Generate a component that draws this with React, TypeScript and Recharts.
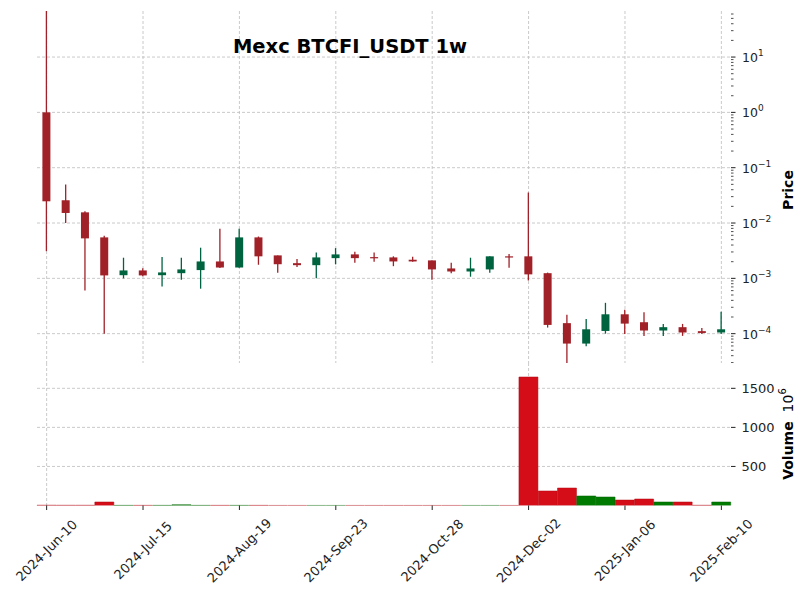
import React from "react";
import { ComposedChart, Bar, XAxis, YAxis, Cell, CartesianGrid } from "recharts";

// weekly candles, prices in USDT
const DATES = [
  "2024-Jun-10", "2024-Jun-17", "2024-Jun-24", "2024-Jul-01", "2024-Jul-08", "2024-Jul-15",
  "2024-Jul-22", "2024-Jul-29", "2024-Aug-05", "2024-Aug-12", "2024-Aug-19", "2024-Aug-26",
  "2024-Sep-02", "2024-Sep-09", "2024-Sep-16", "2024-Sep-23", "2024-Sep-30", "2024-Oct-07",
  "2024-Oct-14", "2024-Oct-21", "2024-Oct-28", "2024-Nov-04", "2024-Nov-11", "2024-Nov-18",
  "2024-Nov-25", "2024-Dec-02", "2024-Dec-09", "2024-Dec-16", "2024-Dec-23", "2024-Dec-30",
  "2025-Jan-06", "2025-Jan-13", "2025-Jan-20", "2025-Jan-27", "2025-Feb-03", "2025-Feb-10",
];
const OPEN = [
  1.0, 0.0258, 0.0156, 0.0055, 0.00114, 0.00139,
  0.00114, 0.00124, 0.00141, 0.00202, 0.00157, 0.0055,
  0.0026, 0.00188, 0.00173, 0.00232, 0.00271, 0.00242,
  0.00239, 0.00217, 0.00211, 0.00151, 0.00133, 0.00145,
  0.0025, 0.0025, 0.00124, 0.000155, 0.0000662, 0.000112,
  0.000224, 0.000161, 0.000114, 0.000131, 0.000111, 0.000105,
];
const HIGH = [
  68, 0.0497, 0.0164, 0.0059, 0.00236, 0.00153,
  0.00244, 0.00236, 0.00358, 0.0079, 0.0079, 0.0057,
  0.0026, 0.00223, 0.00294, 0.00352, 0.00303, 0.00292,
  0.0025, 0.00245, 0.00211, 0.00192, 0.00236, 0.0025,
  0.00275, 0.0356, 0.00127, 0.000219, 0.000185, 0.000361,
  0.00027, 0.000244, 0.00015, 0.00015, 0.000127, 0.000248,
];
const LOW = [
  0.0031, 0.01, 0.0006, 0.0001, 0.001, 0.00109,
  0.00071, 0.00094, 0.00065, 0.00154, 0.00155, 0.00176,
  0.00126, 0.0016, 0.001, 0.00179, 0.00192, 0.002,
  0.00166, 0.002, 0.00094, 0.00124, 0.00107, 0.00126,
  0.00156, 0.00091, 0.000129, 0.0000296, 0.0000591, 0.0001,
  0.0000985, 0.0000912, 0.0000912, 0.0000912, 0.0000985, 0.0000985,
];
const CLOSE = [
  0.0247, 0.0152, 0.00528, 0.00113, 0.00139, 0.00113,
  0.00128, 0.00145, 0.00202, 0.00157, 0.0055, 0.0025,
  0.0018, 0.00173, 0.00239, 0.00271, 0.00232, 0.00232,
  0.00202, 0.00202, 0.00145, 0.00133, 0.00151, 0.0025,
  0.00239, 0.00118, 0.000144, 0.0000662, 0.00012, 0.000224,
  0.000152, 0.000114, 0.000131, 0.000105, 0.000103, 0.00012,
];
// volume, in units of 10^6
const VOLUME = [
  4, 3, 3, 45, 2, 2,
  2, 10, 2, 2, 2, 2,
  1, 1, 1, 1, 1, 1,
  1, 1, 1, 1, 1, 1,
  1, 1645, 186, 224, 122, 109,
  70, 83, 45, 45, 3, 45,
];

const PRICE_DOMAIN = [2.95e-5, 68];
const PRICE_MAJOR = [1e-4, 1e-3, 1e-2, 1e-1, 1, 10];
const MINOR_STEPS = [2, 3, 4, 5, 6, 7, 8, 9];
const MINOR_DECADES = [1e-5, 1e-4, 1e-3, 1e-2, 1e-1, 1, 10];
const VOLUME_DOMAIN = [0, 1824];
const VOLUME_TICKS = [500, 1000, 1500];
const LABEL_EVERY = 5;

const UP = "#006340";
const DOWN = "#A02128";
const VOL_UP = "#007a00";
const VOL_DOWN = "#d50d18";
const GRID = "#bdbdbd";
const FONT = "DejaVu Sans";

const rows = DATES.map((date, i) => ({
  date,
  open: OPEN[i],
  high: HIGH[i],
  low: LOW[i],
  close: CLOSE[i],
  volume: VOLUME[i],
  up: CLOSE[i] >= OPEN[i],
}));

const minorTicks = MINOR_DECADES.flatMap((d) => MINOR_STEPS.map((m) => m * d)).filter(
  (v) => v >= PRICE_DOMAIN[0] && v <= PRICE_DOMAIN[1]
);
const priceTicks = [...PRICE_MAJOR, ...minorTicks].sort((a, b) => a - b);
const gridDates = DATES.filter((_, i) => i % LABEL_EVERY === 0);

// eslint-disable-next-line @typescript-eslint/no-explicit-any
function Candle(props: any) {
  const { x, y, width, height, payload } = props;
  if (!payload || height == null || !isFinite(y)) return null;
  const { open, close, high, low, up } = payload;
  const span = Math.log(high) - Math.log(low);
  const py = (v: number) => y + (height * (Math.log(high) - Math.log(v))) / span;
  const color = up ? UP : DOWN;
  const cx = x + width / 2;
  const top = py(Math.max(open, close));
  const bot = py(Math.min(open, close));
  return (
    <g>
      <line x1={cx} x2={cx} y1={y} y2={y + height} stroke={color} strokeWidth={1.3} />
      <rect x={x} y={top} width={width} height={Math.max(bot - top, 1.2)} fill={color} />
    </g>
  );
}

// eslint-disable-next-line @typescript-eslint/no-explicit-any
function PriceTick({ x, y, payload }: any) {
  const v = payload.value;
  const exp = Math.round(Math.log10(v));
  const major = Math.abs(Math.log10(v) - exp) < 1e-6;
  if (!major) {
    return <line x1={x} x2={x + 2.5} y1={y} y2={y} stroke="#222" strokeWidth={0.8} />;
  }
  return (
    <g>
      <line x1={x} x2={x + 4.5} y1={y} y2={y} stroke="#222" strokeWidth={1} />
      <text x={x + 11} y={y + 5} fontSize={12.5} fill="#222" fontFamily={FONT}>
        10
        <tspan dy={-6} fontSize={9}>
          {exp < 0 ? `\u2212${-exp}` : exp}
        </tspan>
      </text>
    </g>
  );
}

// eslint-disable-next-line @typescript-eslint/no-explicit-any
function VolumeTick({ x, y, payload }: any) {
  return (
    <g>
      <line x1={x} x2={x + 4.5} y1={y} y2={y} stroke="#222" strokeWidth={1} />
      <text x={x + 10.5} y={y} dy="0.36em" fontSize={13} fill="#222" fontFamily={FONT}>
        {payload.value}
      </text>
    </g>
  );
}

// eslint-disable-next-line @typescript-eslint/no-explicit-any
function DateTick({ x, y, payload }: any) {
  return (
    <g>
      <line x1={x} x2={x} y1={y} y2={y + 4.5} stroke="#222" strokeWidth={1} />
      <text
        transform={`translate(${x},${y + 45}) rotate(-45)`}
        textAnchor="middle"
        dominantBaseline="central"
        fontSize={13}
        fill="#222"
        fontFamily={FONT}
      >
        {payload.value}
      </text>
    </g>
  );
}

export default function App() {
  return (
    <div
      style={{
        position: "absolute",
        left: 0,
        top: 0,
        width: 811,
        height: 599,
        background: "#fff",
        fontFamily: FONT,
      }}
    >
      <div style={{ position: "absolute", left: 0, top: 0 }}>
        <ComposedChart
          width={811}
          height={363}
          data={rows}
          margin={{ top: 11, right: 0, bottom: 0, left: 37 }}
          barCategoryGap="28%"
        >
          <CartesianGrid
            yAxisId="p"
            stroke={GRID}
            strokeDasharray="3 2"
            strokeWidth={0.8}
            horizontalValues={PRICE_MAJOR}
            verticalValues={gridDates}
          />
          <XAxis dataKey="date" hide />
          <YAxis
            yAxisId="p"
            orientation="right"
            scale="log"
            type="number"
            domain={PRICE_DOMAIN}
            allowDataOverflow
            ticks={priceTicks}
            interval={0}
            width={80}
            axisLine={false}
            tickLine={false}
            tickSize={0}
            tickMargin={0}
            tick={<PriceTick />}
          />
          <Bar
            yAxisId="p"
            dataKey={(d: { low: number; high: number }) => [d.low, d.high]}
            shape={<Candle />}
            isAnimationActive={false}
          />
        </ComposedChart>
      </div>
      <div style={{ position: "absolute", left: 0, top: 363 }}>
        <ComposedChart
          width={811}
          height={236}
          data={rows}
          margin={{ top: 0, right: 0, bottom: 0, left: 37 }}
          barCategoryGap={0}
          barGap={0}
        >
          <CartesianGrid
            yAxisId="v"
            stroke={GRID}
            strokeDasharray="3 2"
            strokeWidth={0.8}
            horizontalValues={VOLUME_TICKS}
            verticalValues={gridDates}
          />
          <XAxis
            dataKey="date"
            interval={LABEL_EVERY - 1}
            height={93.5}
            axisLine={false}
            tickLine={false}
            tickSize={0}
            tickMargin={0}
            tick={<DateTick />}
          />
          <YAxis
            yAxisId="v"
            orientation="right"
            type="number"
            domain={VOLUME_DOMAIN}
            allowDataOverflow
            ticks={VOLUME_TICKS}
            interval={0}
            width={80}
            axisLine={false}
            tickLine={false}
            tickSize={0}
            tickMargin={0}
            tick={<VolumeTick />}
          />
          <Bar yAxisId="v" dataKey="volume" isAnimationActive={false}>
            {rows.map((r, i) => (
              <Cell
                key={i}
                fill={r.up ? VOL_UP : VOL_DOWN}
                stroke={r.up ? "#006400" : "#b00a12"}
                strokeWidth={0.5}
              />
            ))}
          </Bar>
        </ComposedChart>
      </div>
      <svg
        width={811}
        height={599}
        style={{ position: "absolute", left: 0, top: 0, pointerEvents: "none" }}
      >
        <text x={350} y={53} textAnchor="middle" fontSize={19.5} fontWeight="bold" fill="#000" fontFamily={FONT}>
          Mexc BTCFI_USDT 1w
        </text>
        <text
          transform="translate(788,190) rotate(-90)"
          textAnchor="middle"
          dominantBaseline="central"
          fontSize={14}
          fontWeight="bold"
          fill="#000"
          fontFamily={FONT}
        >
          Price
        </text>
        <text
          transform="translate(788,434) rotate(-90)"
          textAnchor="middle"
          dominantBaseline="central"
          fontSize={14}
          fill="#000"
          fontFamily={FONT}
        >
          <tspan fontWeight="bold">Volume</tspan>
          {"\u00a0\u00a0"}10
          <tspan dy={-6} fontSize={10}>
            6
          </tspan>
        </text>
      </svg>
    </div>
  );
}
